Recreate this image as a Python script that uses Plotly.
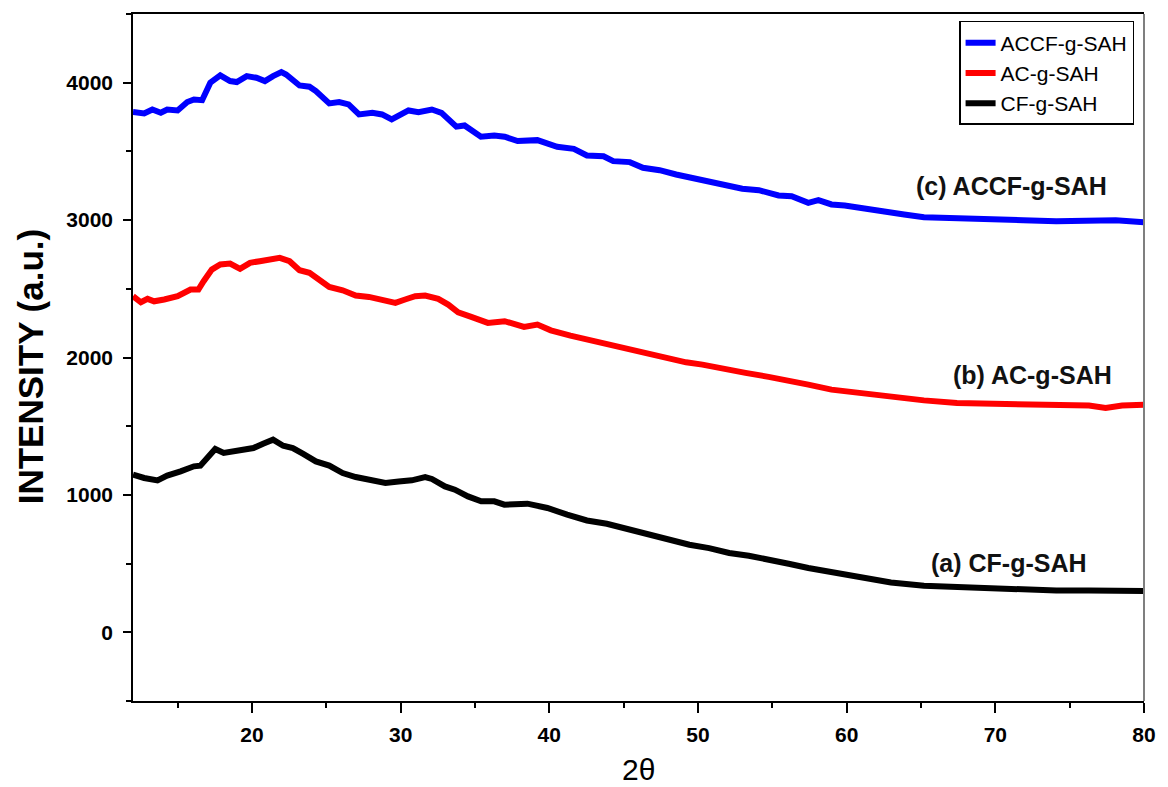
import plotly.graph_objects as go

# XRD patterns of the three grafted superabsorbent hydrogels (offset stacked)
two_theta_accf = [12.0, 12.75, 13.3, 13.87, 14.3, 15.0, 15.65, 16.1, 16.65, 17.2, 17.87, 18.53, 18.98,
                  19.65, 20.3, 20.87, 21.42, 21.98, 22.3, 23.2, 23.87, 24.3, 25.2, 25.87, 26.5, 27.2,
                  28.1, 28.75, 29.4, 29.87, 30.53, 31.2, 32.1, 32.75, 33.75, 34.3, 35.4, 36.3, 37.0,
                  37.87, 39.2, 40.53, 41.65, 42.53, 43.65, 44.3, 45.42, 46.3, 47.42, 48.53, 49.87,
                  51.2, 52.1, 52.98, 54.1, 55.42, 56.3, 57.42, 58.1, 58.98, 59.87, 61.2, 62.53, 63.87,
                  65.2, 67.42, 69.65, 71.87, 74.1, 76.3, 78.1, 80.0]
intensity_accf = [3786, 3776, 3805, 3781, 3805, 3798, 3859, 3878, 3873, 4000, 4053, 4012, 4005,
                  4048, 4036, 4012, 4048, 4077, 4060, 3980, 3971, 3939, 3849, 3859, 3842, 3769,
                  3781, 3769, 3733, 3762, 3798, 3786, 3805, 3781, 3680, 3689, 3607, 3616, 3607,
                  3575, 3582, 3534, 3519, 3470, 3465, 3429, 3422, 3381, 3363, 3332, 3301,
                  3276, 3259, 3228, 3218, 3179, 3174, 3126, 3145, 3114, 3106, 3082, 3058, 3041,
                  3021, 3017, 3004, 2999, 2992, 2992, 2999, 2985]

two_theta_ac = [12.0, 12.53, 12.98, 13.42, 14.1, 15.0, 15.87, 16.4, 16.75, 17.3, 17.87, 18.53, 19.2,
                19.87, 20.53, 21.2, 21.87, 22.53, 23.2, 23.87, 24.53, 25.2, 26.1, 26.98, 27.87, 28.75,
                29.65, 30.3, 30.98, 31.65, 32.53, 33.2, 33.87, 34.75, 35.87, 37.0, 38.3, 39.2, 40.1,
                41.42, 42.75, 44.1, 45.42, 46.3, 47.65, 49.2, 50.3, 51.65, 53.2, 54.75, 56.1, 57.42,
                58.98, 60.75, 62.98, 65.2, 67.42, 69.65, 71.87, 74.1, 76.3, 77.42, 78.53, 80.0]
intensity_ac = [2446, 2402, 2427, 2409, 2422, 2446, 2495, 2495, 2555, 2640, 2677, 2684, 2645,
                2689, 2701, 2708, 2725, 2701, 2635, 2616, 2567, 2514, 2489, 2451, 2441, 2422,
                2398, 2422, 2446, 2451, 2427, 2385, 2329, 2296, 2252, 2264, 2223, 2240, 2198,
                2159, 2125, 2101, 2063, 2038, 2009, 1965, 1948, 1917, 1888, 1859, 1834, 1803,
                1766, 1742, 1713, 1688, 1669, 1664, 1650, 1650, 1650, 1633, 1650, 1657]

two_theta_cf = [12.0, 12.75, 13.65, 14.3, 15.2, 16.1, 16.53, 16.98, 17.53, 18.1, 18.75, 19.42, 20.1,
                20.75, 21.42, 22.1, 22.75, 23.42, 24.3, 25.2, 26.1, 26.98, 27.87, 28.98, 29.87, 30.75,
                31.65, 32.1, 32.98, 33.65, 34.53, 35.42, 36.3, 36.98, 38.53, 39.87, 41.2, 42.53, 43.87,
                45.2, 46.75, 48.1, 49.42, 50.75, 52.1, 53.42, 54.75, 56.1, 57.42, 58.98, 60.75, 62.98,
                65.2, 67.42, 69.65, 71.87, 74.1, 76.3, 78.53, 80.0]
intensity_cf = [1147, 1123, 1106, 1140, 1171, 1208, 1213, 1261, 1334, 1305, 1317, 1329, 1341,
                1373, 1402, 1358, 1341, 1300, 1244, 1213, 1159, 1130, 1111, 1087, 1098, 1106,
                1130, 1116, 1062, 1038, 989, 953, 953, 929, 936, 905, 856, 814, 790,
                752, 703, 669, 637, 613, 577, 557, 523, 499, 468, 436, 406, 363,
                339, 329, 315, 310, 304, 304, 297, 300]

series_names = ["ACCF-g-SAH", "AC-g-SAH", "CF-g-SAH"]
series_colors = ["#0000ff", "#ff0000", "#000000"]
curve_labels = ["(c) ACCF-g-SAH", "(b) AC-g-SAH", "(a) CF-g-SAH"]
label_pos = [(71.1, 3245), (72.5, 1875), (70.9, 506)]

FONT = "Arial, 'Liberation Sans', sans-serif"

fig = go.Figure()
for xs, ys, name, color in zip([two_theta_accf, two_theta_ac, two_theta_cf],
                               [intensity_accf, intensity_ac, intensity_cf],
                               series_names, series_colors):
    fig.add_trace(go.Scatter(x=xs, y=ys, mode="lines", name=name,
                             line=dict(color=color, width=6)))

for text, (lx, ly) in zip(curve_labels, label_pos):
    fig.add_annotation(x=lx, y=ly, text=text, showarrow=False,
                       font=dict(family=FONT, size=25, color="#111111", weight="bold"))

# axis titles
fig.add_annotation(xref="paper", yref="paper", x=(30 - 133) / 1019, y=(701 - 366) / 688,
                   text="INTENSITY (a.u.)", textangle=-90, showarrow=False,
                   xanchor="center", yanchor="middle",
                   font=dict(family=FONT, size=35, color="#000000", weight="bold"))
fig.add_annotation(xref="paper", yref="paper", x=0.5, y=-(770 - 701) / 688,
                   text="2θ", showarrow=False, xanchor="center", yanchor="middle",
                   font=dict(family=FONT, size=30, color="#000000"))

# grey right-hand frame edge
fig.add_shape(type="line", xref="paper", yref="paper", x0=1, x1=1, y0=0, y1=1,
              line=dict(color="#7f7f7f", width=2))

fig.update_xaxes(range=[12, 80], tick0=0, dtick=10, ticks="outside", ticklen=10, tickwidth=1.5,
                 tickcolor="#000000", showline=True, linecolor="#000000", linewidth=1.5,
                 mirror=True, showgrid=False, zeroline=False, ticklabelstandoff=4,
                 tickfont=dict(family=FONT, size=21, color="#000000", weight="bold"),
                 minor=dict(dtick=5, tick0=0, ticks="outside", ticklen=5, tickwidth=1.5,
                            tickcolor="#000000", showgrid=False))
fig.update_yaxes(range=[-500, 4500], tick0=0, dtick=1000, ticks="outside", ticklen=8, tickwidth=1.5,
                 tickcolor="#000000", showline=True, linecolor="#000000", linewidth=1.5,
                 mirror=False, showgrid=False, zeroline=False, ticklabelstandoff=6,
                 tickfont=dict(family=FONT, size=21, color="#000000", weight="bold"),
                 minor=dict(dtick=500, tick0=0, ticks="outside", ticklen=5, tickwidth=1.5,
                            tickcolor="#000000", showgrid=False))

fig.update_layout(
    width=1168, height=787,
    margin=dict(l=133, r=16, t=13, b=86),
    paper_bgcolor="white", plot_bgcolor="white",
    showlegend=True,
    legend=dict(x=(1142 - 133) / 1019, y=(701 - 20) / 688, xanchor="right", yanchor="top",
                bgcolor="white", bordercolor="#000000", borderwidth=1.5,
                font=dict(family=FONT, size=21, color="#000000"),
                tracegroupgap=0, itemwidth=30),
)

fig.write_html("out.html")
